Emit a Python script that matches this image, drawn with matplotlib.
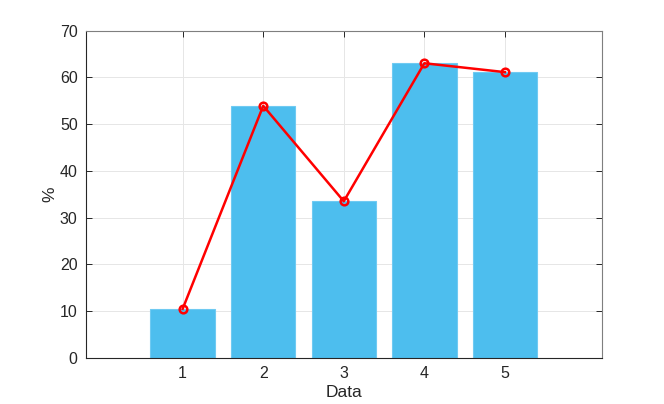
import matplotlib
matplotlib.use("Agg")
import matplotlib.pyplot as plt

categories = [1, 2, 3, 4, 5]
values = [10.5, 53.9, 33.5, 63.0, 61.1]
yticks = [0, 10, 20, 30, 40, 50, 60, 70]

plt.rcParams["font.family"] = ["Liberation Sans", "DejaVu Sans"]

fig = plt.figure(figsize=(6.64, 4.04), dpi=100)
ax = fig.add_axes([0.1295, 0.1139, 0.7765, 0.8106])

# bars with the line drawn over them
ax.bar(categories, values, width=0.8, color="#4DBEEE", edgecolor="#6fcaf2",
       linewidth=0.8, zorder=2)
ax.plot(categories, values, color="red", linewidth=1.8, marker="o",
        markersize=5.5, markerfacecolor="none", markeredgewidth=1.8, zorder=3)

ax.set_xlim(-0.2, 6.2)
ax.set_ylim(0, 70)
ax.set_xticks(categories)
ax.set_yticks(yticks)
ax.set_xlabel("Data", fontsize=12.5, color="#262626", labelpad=3)
ax.set_ylabel("%", fontsize=12.5, color="#262626", labelpad=2)

ax.grid(True, color="#e6e6e6", linewidth=0.7, zorder=0)
ax.set_axisbelow(True)
ax.tick_params(direction="in", length=4, width=0.7, colors="#262626",
               labelsize=11.5, top=True, right=True, pad=6)
for s in ax.spines.values():
    s.set_color("#7f7f7f")
    s.set_linewidth(0.8)
ax.spines["bottom"].set_color("#262626")
ax.spines["left"].set_color("#262626")

fig.savefig("out.png", dpi=100)
